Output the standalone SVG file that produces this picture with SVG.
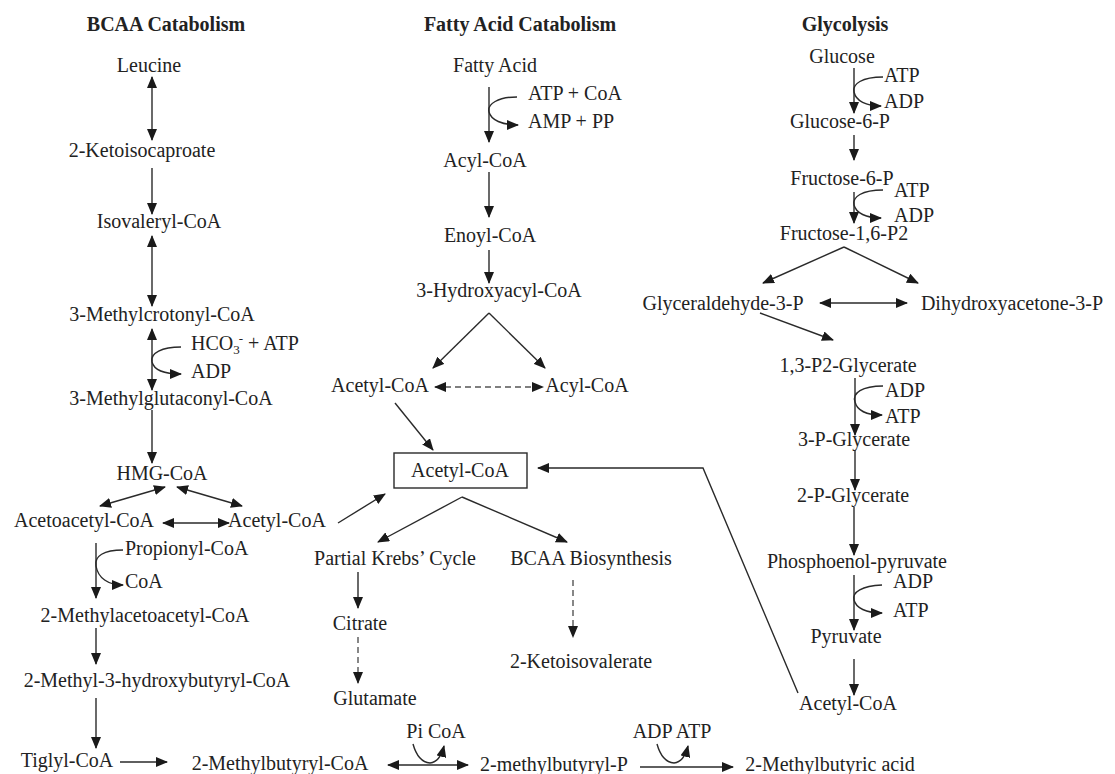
<svg xmlns="http://www.w3.org/2000/svg" width="1115" height="774" viewBox="0 0 1115 774">
<style>
text{font-family:"Liberation Serif","Times New Roman",serif;font-size:20px;fill:#222;}
.t{font-weight:bold;text-anchor:middle;}
.c{text-anchor:middle;}
.ln{fill:none;stroke:#2a2a2a;stroke-width:1.4;}
.e{marker-end:url(#ah);}
.b{marker-start:url(#ah);marker-end:url(#ah);}
.d{stroke-dasharray:6 4;stroke:#555;}
</style>
<defs>
<marker id="ah" markerUnits="userSpaceOnUse" markerWidth="12" markerHeight="10" refX="11" refY="5" orient="auto-start-reverse" viewBox="0 0 12 10">
<path d="M0,0 L12,5 L0,10 z" fill="#1a1a1a"/>
</marker>
</defs>
<rect width="1115" height="774" fill="#ffffff"/>

<g id="titles">
<text class="t" x="166" y="31">BCAA Catabolism</text>
<text class="t" x="520" y="31">Fatty Acid Catabolism</text>
<text class="t" x="845" y="31">Glycolysis</text>
</g>

<g id="connectors">
<!-- BCAA -->
<line class="ln b" x1="152" y1="77" x2="152" y2="140"/>
<line class="ln e" x1="152" y1="168" x2="152" y2="214"/>
<line class="ln b" x1="152" y1="236" x2="152" y2="306"/>
<line class="ln b" x1="152" y1="329" x2="152" y2="390"/>
<path class="ln e" d="M181,347 C162,347 150,353 152,362 C154,370 165,374 181,374"/>
<line class="ln e" x1="152" y1="410" x2="152" y2="463"/>
<line class="ln b" x1="165" y1="487" x2="100" y2="506"/>
<line class="ln b" x1="177" y1="487" x2="242" y2="506"/>
<line class="ln b" x1="163" y1="523" x2="229" y2="523"/>
<line class="ln e" x1="338" y1="523" x2="385" y2="494"/>
<line class="ln e" x1="96" y1="543" x2="96" y2="598"/>
<path class="ln e" d="M123,550 C104,550 94,556 96,566 C98,578 108,585 123,585"/>
<line class="ln e" x1="96" y1="628" x2="96" y2="664"/>
<line class="ln e" x1="96" y1="698" x2="96" y2="748"/>
<line class="ln e" x1="120" y1="762" x2="167" y2="762"/>
<line class="ln b" x1="388" y1="765" x2="468" y2="765"/>
<path class="ln e" d="M413,744 Q418,762 430,763 Q440,762 444,746"/>
<line class="ln e" x1="640" y1="767" x2="733" y2="767"/>
<path class="ln e" d="M657,744 Q662,762 674,763 Q684,762 688,746"/>
<!-- Fatty acid -->
<line class="ln e" x1="489" y1="87" x2="489" y2="142"/>
<path class="ln e" d="M517,97 C498,97 487,104 489,112 C491,120 502,125 518,125"/>
<line class="ln e" x1="489" y1="172" x2="489" y2="217"/>
<line class="ln e" x1="489" y1="250" x2="489" y2="283"/>
<line class="ln e" x1="489" y1="313" x2="433" y2="368"/>
<line class="ln e" x1="489" y1="313" x2="545" y2="368"/>
<line class="ln b d" x1="435" y1="387" x2="543" y2="387"/>
<line class="ln e" x1="395" y1="403" x2="433" y2="450"/>
<line class="ln e" x1="462" y1="497" x2="378" y2="542"/>
<line class="ln e" x1="462" y1="497" x2="567" y2="542"/>
<line class="ln e" x1="358" y1="572" x2="358" y2="608"/>
<line class="ln e d" x1="358" y1="637" x2="358" y2="683"/>
<line class="ln e d" x1="573" y1="580" x2="573" y2="637"/>
<polyline class="ln e" points="798,693 703,468 538,468"/>
<!-- Glycolysis -->
<line class="ln e" x1="854" y1="68" x2="854" y2="113"/>
<path class="ln e" d="M883,77 C862,77 852,84 854,92 C856,101 866,106 881,106"/>
<line class="ln e" x1="854" y1="135" x2="854" y2="160"/>
<line class="ln e" x1="854" y1="192" x2="854" y2="223"/>
<path class="ln e" d="M883,190 C862,190 852,197 854,205 C856,213 866,218 881,218"/>
<line class="ln e" x1="844" y1="247" x2="763" y2="283"/>
<line class="ln e" x1="844" y1="247" x2="918" y2="283"/>
<line class="ln b" x1="820" y1="303" x2="907" y2="303"/>
<line class="ln e" x1="760" y1="313" x2="833" y2="340"/>
<line class="ln e" x1="855" y1="378" x2="855" y2="435"/>
<path class="ln e" d="M883,386 C862,386 852,393 855,402 C857,410 866,415 882,415"/>
<line class="ln e" x1="855" y1="450" x2="855" y2="490"/>
<line class="ln e" x1="854" y1="507" x2="854" y2="555"/>
<line class="ln e" x1="854" y1="575" x2="854" y2="630"/>
<path class="ln e" d="M882,585 C862,586 852,592 854,600 C856,608 866,613 882,613"/>
<line class="ln e" x1="854" y1="659" x2="854" y2="695"/>
</g>

<g id="leucine"><text class="c" x="149" y="72">Leucine</text></g>
<g id="ketoisocaproate"><text class="c" x="142" y="157">2-Ketoisocaproate</text></g>
<g id="isovaleryl"><text class="c" x="159" y="228">Isovaleryl-CoA</text></g>
<g id="methylcrotonyl"><text class="c" x="162" y="321">3-Methylcrotonyl-CoA</text></g>
<g id="hco3"><text x="191" y="350">HCO<tspan font-size="13" dy="4">3</tspan><tspan font-size="13" dx="-1" dy="-11">-</tspan><tspan dy="7"> + ATP</tspan></text></g>
<g id="adp1"><text x="191" y="378">ADP</text></g>
<g id="methylglutaconyl"><text class="c" x="171" y="405">3-Methylglutaconyl-CoA</text></g>
<g id="hmg"><text class="c" x="162" y="480">HMG-CoA</text></g>
<g id="acetoacetyl"><text class="c" x="84" y="527">Acetoacetyl-CoA</text></g>
<g id="acetylcoa-bcaa"><text class="c" x="277" y="527">Acetyl-CoA</text></g>
<g id="propionyl"><text x="125" y="555">Propionyl-CoA</text></g>
<g id="coa1"><text x="125" y="588">CoA</text></g>
<g id="methylacetoacetyl"><text class="c" x="145" y="622">2-Methylacetoacetyl-CoA</text></g>
<g id="hydroxybutyryl"><text class="c" x="157" y="687">2-Methyl-3-hydroxybutyryl-CoA</text></g>
<g id="tiglyl"><text class="c" x="67" y="767">Tiglyl-CoA</text></g>
<g id="methylbutyryl-coa"><text class="c" x="280" y="770">2-Methylbutyryl-CoA</text></g>
<g id="picoa"><text class="c" x="436" y="738">Pi CoA</text></g>
<g id="methylbutyryl-p"><text class="c" x="554" y="771">2-methylbutyryl-P</text></g>
<g id="adpatp"><text class="c" x="672" y="738">ADP ATP</text></g>
<g id="methylbutyric"><text class="c" x="830" y="771">2-Methylbutyric acid</text></g>

<g id="fattyacid"><text class="c" x="495" y="72">Fatty Acid</text></g>
<g id="atpcoa"><text x="528" y="100">ATP + CoA</text></g>
<g id="amppp"><text x="528" y="128">AMP + PP</text></g>
<g id="acylcoa1"><text class="c" x="485" y="167">Acyl-CoA</text></g>
<g id="enoyl"><text class="c" x="490" y="242">Enoyl-CoA</text></g>
<g id="hydroxyacyl"><text class="c" x="499" y="297">3-Hydroxyacyl-CoA</text></g>
<g id="acetylcoa-fa"><text class="c" x="380" y="392">Acetyl-CoA</text></g>
<g id="acylcoa2"><text class="c" x="587" y="392">Acyl-CoA</text></g>
<g id="acetylcoa-box"><rect x="394" y="453" width="133" height="35" fill="none" stroke="#2a2a2a" stroke-width="1.4"/><text class="c" x="460" y="477">Acetyl-CoA</text></g>
<g id="krebs"><text class="c" x="395" y="565">Partial Krebs’ Cycle</text></g>
<g id="citrate"><text class="c" x="360" y="630">Citrate</text></g>
<g id="glutamate"><text class="c" x="375" y="705">Glutamate</text></g>
<g id="bcaabio"><text class="c" x="591" y="565">BCAA Biosynthesis</text></g>
<g id="ketoisovalerate"><text class="c" x="581" y="668">2-Ketoisovalerate</text></g>

<g id="glucose"><text class="c" x="842" y="63">Glucose</text></g>
<g id="atp1"><text x="884" y="82">ATP</text></g>
<g id="adp2"><text x="884" y="108">ADP</text></g>
<g id="g6p"><text class="c" x="840" y="128">Glucose-6-P</text></g>
<g id="f6p"><text class="c" x="842" y="185">Fructose-6-P</text></g>
<g id="atp2"><text x="894" y="197">ATP</text></g>
<g id="adp3"><text x="894" y="222">ADP</text></g>
<g id="f16p2"><text class="c" x="844" y="240">Fructose-1,6-P2</text></g>
<g id="g3p"><text class="c" x="723" y="310">Glyceraldehyde-3-P</text></g>
<g id="dhap"><text class="c" x="1012" y="310">Dihydroxyacetone-3-P</text></g>
<g id="bpg"><text class="c" x="848" y="372">1,3-P2-Glycerate</text></g>
<g id="adp4"><text x="885" y="397">ADP</text></g>
<g id="atp3"><text x="885" y="423">ATP</text></g>
<g id="pg3"><text class="c" x="854" y="446">3-P-Glycerate</text></g>
<g id="pg2"><text class="c" x="853" y="502">2-P-Glycerate</text></g>
<g id="pep"><text class="c" x="857" y="568">Phosphoenol-pyruvate</text></g>
<g id="adp5"><text x="893" y="588">ADP</text></g>
<g id="atp4"><text x="893" y="617">ATP</text></g>
<g id="pyruvate"><text class="c" x="846" y="643">Pyruvate</text></g>
<g id="acetylcoa-gly"><text class="c" x="848" y="710">Acetyl-CoA</text></g>
</svg>
